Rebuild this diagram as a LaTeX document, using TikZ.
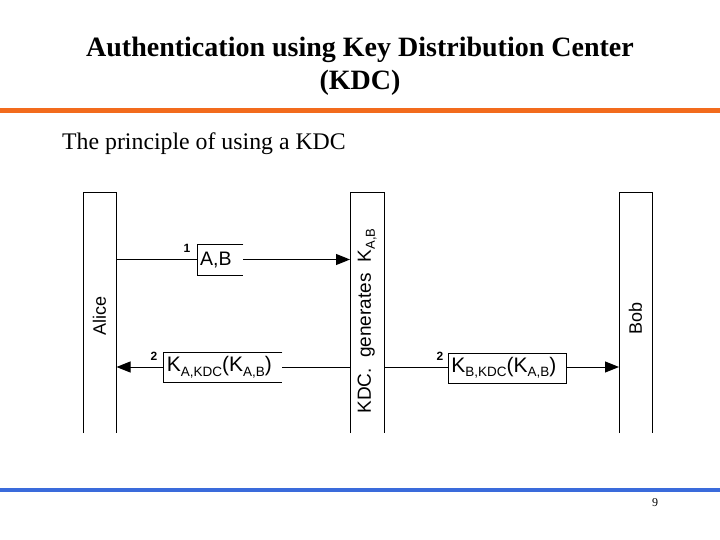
\documentclass[tikz,border=0pt]{standalone}
\usepackage{fontspec}
\setmainfont{Liberation Serif}
\newfontfamily\arialf{Liberation Sans}
\usetikzlibrary{arrows.meta}
\definecolor{orangebar}{HTML}{F26B1D}
\definecolor{bluebar}{HTML}{3A6BDB}
\newcommand\sbs[1]{\raisebox{-4.5pt}{\fontsize{13.5}{13.5}\selectfont #1}}
\newcommand\rsbs[1]{\raisebox{-4pt}{\fontsize{13}{13}\selectfont #1}}
\begin{document}
\begin{tikzpicture}[x=1pt,y=-1pt,
  bar/.style={line width=1pt},
  msg/.style={line width=1pt,-{Triangle[length=14pt,width=11pt]}},
  lbl/.style={fill=white,inner sep=0pt,minimum height=30pt,anchor=west,font=\arialf\fontsize{19.5}{19.5}\selectfont},
  num/.style={font=\arialf\bfseries\fontsize{12}{12}\selectfont,inner sep=0pt},
  who/.style={rotate=90,inner sep=0pt,font=\arialf\fontsize{18}{18}\selectfont}]
\useasboundingbox (0,0) rectangle (720,540);
% header
\node[font=\bfseries\fontsize{28}{28}\selectfont,anchor=base,inner sep=0pt] (title1) at (360,57) {Authentication using Key Distribution Center};
\node[font=\bfseries\fontsize{28}{28}\selectfont,anchor=base,inner sep=0pt] (title2) at (360,90) {(KDC)};
\fill[orangebar] (0,108) rectangle (720,113);
\node[font=\fontsize{23.8}{23.8}\selectfont,anchor=base west,inner sep=0pt] (sub) at (62,150) {The principle of using a KDC};
\fill[bluebar] (0,488) rectangle (720,492);
\node[font=\fontsize{12}{12}\selectfont,inner sep=0pt] (page) at (655,503) {9};
% bars
\draw[bar] (83,433) -- (83,192.5) -- (116.5,192.5) -- (116.5,433);
\draw[bar] (350,433) -- (350,192.5) -- (384,192.5) -- (384,433);
\draw[bar] (619,433) -- (619,192.5) -- (652,192.5) -- (652,433);
\coordinate (aR1) at (116.5,259.5);
\coordinate (kL1) at (350,259.5);
\coordinate (aR2) at (116.5,367);
\coordinate (kL2) at (350,367);
\coordinate (kR2) at (384,367);
\coordinate (bL2) at (619,367);
\node[who] (alice) at (99.5,316) {Alice};
\node[who] (bob) at (635.5,318) {Bob};
\node[who,font=\arialf\fontsize{19}{19}\selectfont] (kdc) at (367,321) {KDC.\hspace{5pt} generates\hspace{6pt} K\rsbs{A,B}};
% messages
\draw[msg] (aR1) -- (kL1);
\draw[msg] (kL2) -- (aR2);
\draw[msg] (kR2) -- (bL2);
\node[lbl,minimum width=46pt,text width=40pt,align=left] (m1) at (197,260) {A,B};
\draw[line width=1pt] (m1.north east) -- (m1.north west) -- (m1.south west) -- (m1.south east);
\node[lbl,minimum width=118.5pt,text width=112pt,align=left] (m2) at (163.5,367.5) {\fontsize{21}{21}\selectfont K\sbs{A,KDC}(K\sbs{A,B})};
\draw[line width=1pt] (m2.north east) -- (m2.north west) -- (m2.south west) -- (m2.south east);
\node[lbl,draw,line width=1pt,minimum width=117.5pt,text width=112pt,align=left] (m3) at (448,368) {\fontsize{21}{21}\selectfont K\sbs{B,KDC}(K\sbs{A,B})};
\node[num] (n1) at (187,248) {1};
\node[num] (n2) at (154,356) {2};
\node[num] (n3) at (440,356) {2};
\end{tikzpicture}
\end{document}
